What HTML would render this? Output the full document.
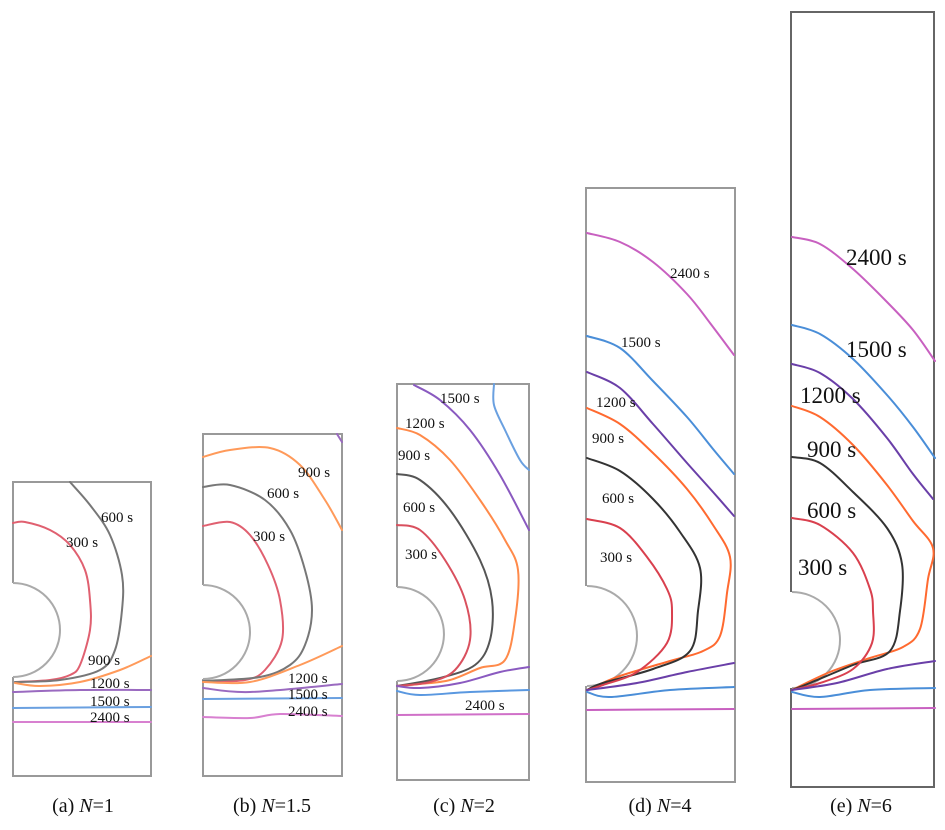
<!DOCTYPE html>
<html><head><meta charset="utf-8"><style>
body{margin:0;background:#fff;width:945px;height:830px;overflow:hidden}
svg{display:block}
text{font-family:"Liberation Serif",serif;fill:#111}
</style></head><body>
<svg id="fig" width="945" height="830"></svg>
<script>
const panelNames=["a","b","c","d","e"];
const panelBoxes=[[13,482,151,776],[203,434,342,776],[397,384,529,780],[586,188,735,782],[791,12,934,787]];
const circles=[[13,630,47],[203,632,47],[397,634,47],[587,636,50],[792,640,48]];
const captions=[["(a) ","N","=1",83],["(b) ","N","=1.5",272],["(c) ","N","=2",464],["(d) ","N","=4",660],["(e) ","N","=6",861]];
const colors={r300:"#d9404e",g600:"#333",o900:"#ff6a30",p1200:"#6a3fa8",b1500:"#4a8ed8",k2400:"#c860c0"};
const curvesA=[
 ["r300","#e06070",[[13,523],[25,522],[50,530],[70,545],[85,570],[90,600],[90,630],[80,665],[70,675],[50,680],[15,682]]],
 ["g600","#777",[[70,482],[90,505],[110,535],[122,575],[122,610],[115,650],[100,670],[60,680],[15,682]]],
 ["o900","#ff9a5a",[[15,683],[40,686],[80,682],[120,670],[151,656]]],
 ["p1200","#9a6ac0",[[13,692],[80,690],[151,690]]],
 ["b1500","#6aa0e0",[[13,708],[151,707]]],
 ["k2400","#d880d0",[[13,722],[151,722]]]];
const curvesB=[
 ["r300","#e06070",[[203,526],[230,522],[250,535],[268,565],[280,600],[282,640],[265,670],[245,680],[203,682]]],
 ["g600","#777",[[203,487],[230,485],[265,500],[290,530],[305,570],[312,610],[305,645],[290,665],[260,677],[203,681]]],
 ["o900","#ff9a5a",[[203,457],[230,450],[270,448],[300,465],[325,500],[342,530]]],
 ["o900","#ff9a5a",[[203,682],[250,682],[300,665],[342,646]]],
 ["p1200","#9a6ac0",[[203,688],[250,692],[342,684]]],
 ["p1200","#9a6ac0",[[337,434],[342,442]]],
 ["b1500","#6aa0e0",[[203,699],[342,698]]],
 ["k2400","#d880d0",[[203,717],[250,718],[280,714],[342,716]]]];
const curvesC=[
 ["p1200","#8a5ac0",[[414,385],[440,400],[470,430],[500,475],[529,530]]],
 ["b1500","#6aa0e0",[[494,384],[494,405],[505,430],[520,460],[529,470]]],
 ["o900","#ff8a4a",[[397,428],[420,435],[450,460],[480,500],[505,540],[518,570],[515,620],[505,660],[480,668],[450,680],[420,684],[397,686]]],
 ["g600","#555",[[397,474],[420,480],[450,510],[480,560],[492,600],[490,640],[475,665],[440,678],[397,686]]],
 ["r300","#d9505e",[[397,525],[420,530],[445,560],[465,600],[470,640],[455,670],[430,682],[397,686]]],
 ["p1200","#8a5ac0",[[397,686],[420,688],[460,683],[500,672],[529,667]]],
 ["b1500","#5a98e0",[[397,691],[420,695],[470,692],[529,690]]],
 ["k2400","#d070c8",[[397,715],[529,714]]]];
const curvesD=[
 ["k2400",null,[[587,233],[620,242],[653,262],[687,294],[710,323],[734,355]]],
 ["b1500",null,[[587,336],[620,348],[653,381],[687,417],[713,449],[734,474]]],
 ["p1200",null,[[587,372],[620,388],[653,424],[687,463],[713,492],[734,516]]],
 ["o900",null,[[587,408],[620,424],[653,453],[687,489],[713,525],[730,557],[727,593],[720,636],[703,651],[670,661],[620,676],[587,690]]],
 ["g600",null,[[587,458],[620,471],[653,499],[680,532],[700,568],[698,611],[690,651],[653,669],[603,683],[587,690]]],
 ["r300",null,[[587,519],[620,528],[647,557],[667,589],[672,611],[667,643],[637,672],[603,685],[587,690]]],
 ["p1200",null,[[587,690],[637,683],[687,672],[734,663]]],
 ["b1500",null,[[587,692],[610,697],[670,690],[734,687]]],
 ["k2400",null,[[587,710],[734,709]]]];
const curvesE=[
 ["k2400",null,[[792,237],[820,244],[853,269],[887,302],[913,330],[935,361]]],
 ["b1500",null,[[792,325],[820,334],[853,359],[887,395],[913,427],[935,458]]],
 ["p1200",null,[[792,364],[820,373],[853,399],[887,438],[913,474],[933,499]]],
 ["o900",null,[[792,406],[820,417],[853,445],[887,485],[913,521],[933,548],[928,579],[920,629],[903,647],[870,658],[830,672],[792,690]]],
 ["g600",null,[[792,457],[820,463],[853,492],[887,528],[902,564],[900,611],[890,651],[853,665],[810,683],[792,690]]],
 ["r300",null,[[792,518],[820,525],[853,553],[870,589],[873,611],[872,643],[853,669],[820,683],[792,690]]],
 ["p1200",null,[[792,690],[837,683],[887,669],[935,661]]],
 ["b1500",null,[[792,692],[820,697],[870,690],[935,688]]],
 ["k2400",null,[[792,709],[935,708]]]];
const allCurves=[curvesA,curvesB,curvesC,curvesD,curvesE];
const labelSizes=[15,15,15,15,23];
const labelsA=[["600 s",101,522],["300 s",66,547],["900 s",88,665],["1200 s",90,688],["1500 s",90,706],["2400 s",90,722]];
const labelsB=[["900 s",298,477],["600 s",267,498],["300 s",253,541],["1200 s",288,683],["1500 s",288,699],["2400 s",288,716]];
const labelsC=[["1500 s",440,403],["1200 s",405,428],["900 s",398,460],["600 s",403,512],["300 s",405,559],["2400 s",465,710]];
const labelsD=[["2400 s",670,278],["1500 s",621,347],["1200 s",596,407],["900 s",592,443],["600 s",602,503],["300 s",600,562]];
const labelsE=[["2400 s",846,265],["1500 s",846,357],["1200 s",800,403],["900 s",807,457],["600 s",807,518],["300 s",798,575]];
const allLabels=[labelsA,labelsB,labelsC,labelsD,labelsE];

const NS="http://www.w3.org/2000/svg";
const svg=document.getElementById('fig');
function mk(tag,attrs,parent){const e=document.createElementNS(NS,tag);for(const k in attrs)e.setAttribute(k,attrs[k]);(parent||svg).appendChild(e);return e;}
function smooth(p){
  if(p.length<3)return 'M'+p.map(q=>q.join(',')).join(' L');
  let d=`M${p[0][0]},${p[0][1]}`;
  for(let i=0;i<p.length-1;i++){
    const p0=p[i-1]||p[i],p1=p[i],p2=p[i+1],p3=p[i+2]||p2;
    const c1=[p1[0]+(p2[0]-p0[0])/6,p1[1]+(p2[1]-p0[1])/6];
    const c2=[p2[0]-(p3[0]-p1[0])/6,p2[1]-(p3[1]-p1[1])/6];
    d+=` C${c1[0].toFixed(1)},${c1[1].toFixed(1)} ${c2[0].toFixed(1)},${c2[1].toFixed(1)} ${p2[0]},${p2[1]}`;
  }
  return d;
}
panelNames.forEach((p,i)=>{
  const g=mk('g',{});
  
  
  const [x0,y0,x1,y1]=panelBoxes[i];const [cx,cy,r]=circles[i];
  const stroke=i===4?"#666":"#999";
  const box=mk('path',{d:`M${x0},${cy-r} V${y0} H${x1} V${y1} H${x0} V${cy+r}`,fill:"none",stroke:stroke,"stroke-width":2},g);
  
  
  const c=mk('path',{d:`M${cx},${cy-r} A${r},${r} 0 0 1 ${cx},${cy+r}`,fill:"none",stroke:"#aaa","stroke-width":2},g);
  
  
  allCurves[i].forEach(cv=>{
    const pl=mk('path',{d:smooth(cv[2]),fill:"none",stroke:cv[1]||colors[cv[0]],"stroke-width":2,"stroke-linejoin":"round","stroke-linecap":"round"},g);
    
    
  });
  allLabels[i].forEach(l=>{
    const t=mk('text',{x:l[1],y:l[2],"font-size":labelSizes[i]},g);
    t.textContent=l[0];
    
    
  });
  const cap=captions[i];
  const t=mk('text',{x:cap[3],y:812,"font-size":20,"text-anchor":"middle"},g);
  
  
  const s1=mk('tspan',{},t);s1.textContent=cap[0];
  const s2=mk('tspan',{"font-style":"italic"},t);s2.textContent=cap[1];
  const s3=mk('tspan',{},t);s3.textContent=cap[2];
});
</script>
</body></html>
